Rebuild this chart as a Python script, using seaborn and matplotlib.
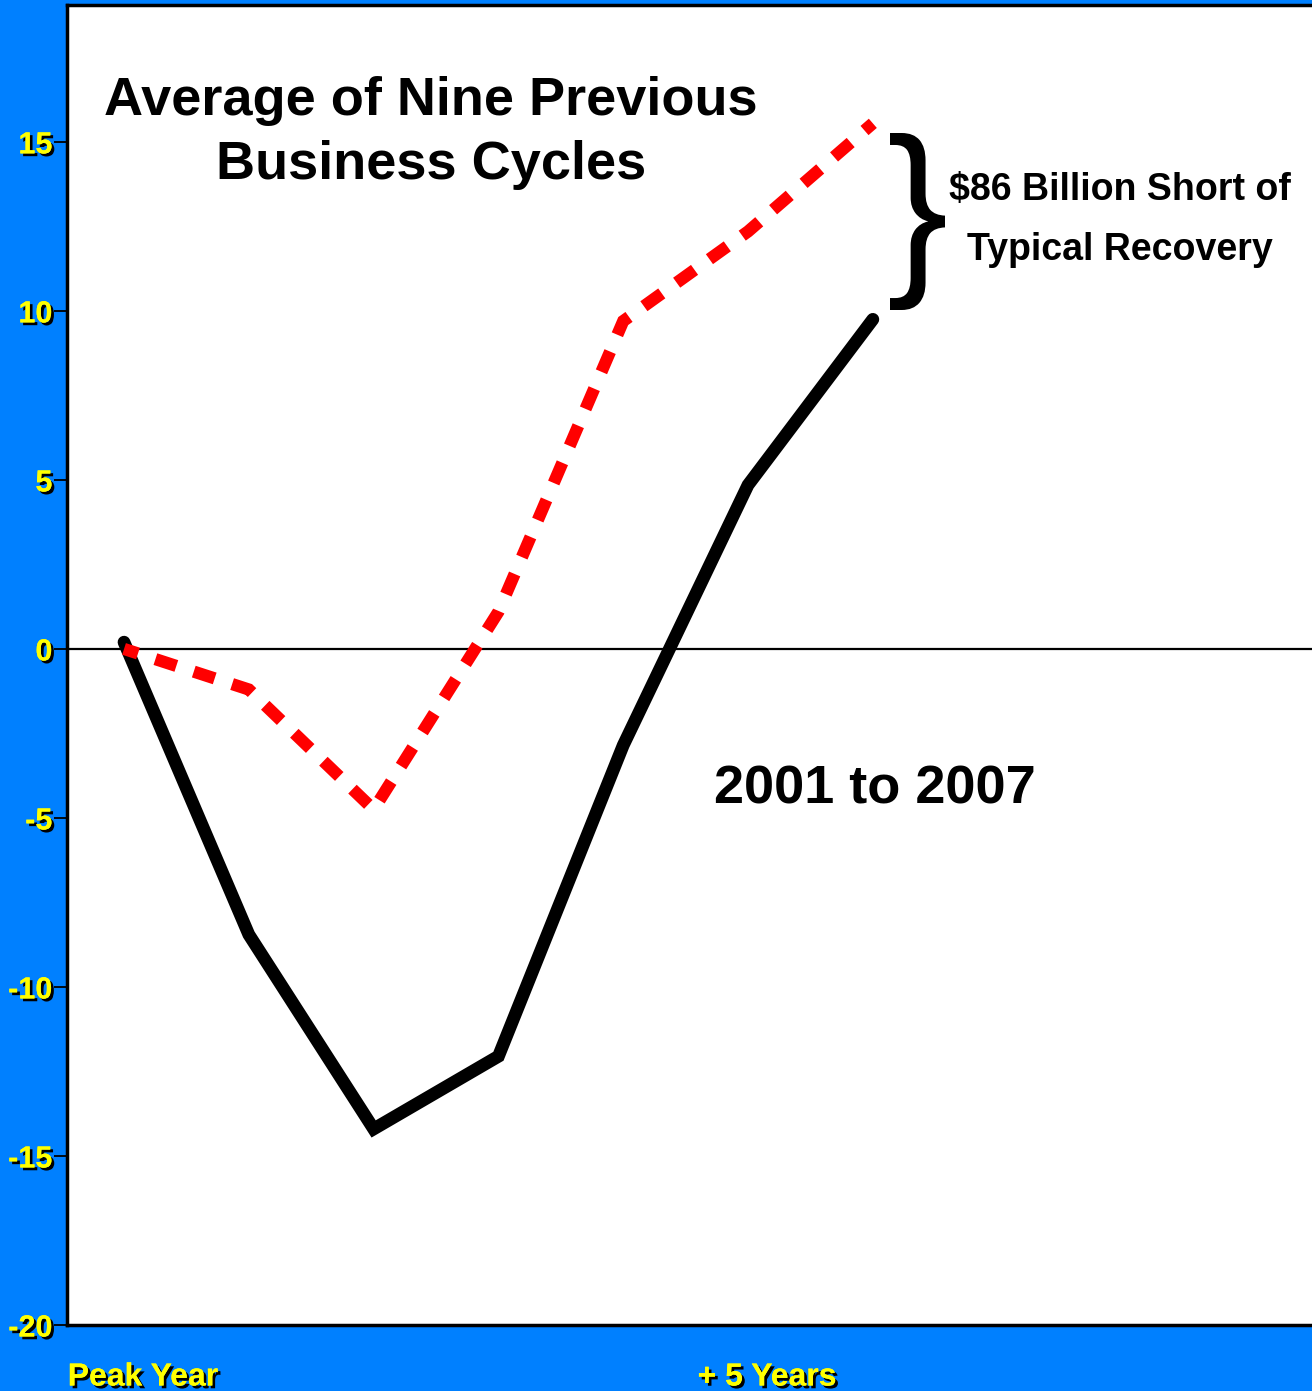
import numpy as np
import pandas as pd
import matplotlib
matplotlib.use("Agg")
import matplotlib.pyplot as plt
import matplotlib.patheffects as pe
from matplotlib.textpath import TextPath
from matplotlib.font_manager import FontProperties
from matplotlib.patches import PathPatch
from matplotlib.transforms import Affine2D, ScaledTranslation
import seaborn as sns

# ---- data ----
years = [0, 1, 2, 3, 4, 5, 6]
cycle_2001_2007 = [0.2, -8.45, -14.2, -12.05, -2.85, 4.85, 9.75]
avg_nine_cycles = [0.0, -1.2, -4.75, 1.1, 9.7, 12.35, 15.55]
x_tick_pos = [0, 5]
x_tick_labels = ["Peak Year", "+ 5 Years"]
y_ticks = [-20, -15, -10, -5, 0, 5, 10, 15]

title_text = "Average of Nine Previous\nBusiness Cycles"
series_label = "2001 to 2007"
gap_text = "$86 Billion Short of\nTypical Recovery"

BLUE = "#0080FF"
FONT = "Liberation Sans"

sns.set_style("white")
plt.rcParams["font.family"] = [FONT, "DejaVu Sans"]

W, H = 1312, 1391
fig = plt.figure(figsize=(W / 100, H / 100), dpi=100, facecolor=BLUE)
ax = fig.add_axes([67 / W, (H - 1325) / H, (W - 67) / W, (1325 - 5) / H])
ax.set_facecolor("white")

df = pd.DataFrame({"year": years, "actual": cycle_2001_2007, "avg": avg_nine_cycles})

sns.lineplot(data=df, x="year", y="actual", ax=ax, color="black", linewidth=9.2)
sns.lineplot(data=df, x="year", y="avg", ax=ax, color="#FF0000", linewidth=8.8,
             linestyle=(0.6, (1.8, 1.5)))
l_black, l_red = ax.lines[0], ax.lines[1]
l_black.set_solid_capstyle("round")
l_black.set_solid_joinstyle("miter")
l_red.set_dash_capstyle("butt")
l_red.set_dash_joinstyle("miter")
l_black.set_zorder(3)
l_red.set_zorder(4)

ax.axhline(0, color="black", linewidth=1.6, zorder=2)

ax.set_xlim(-0.457, 9.519)
ax.set_ylim(-20, 19.05)
ax.set_xlabel("")
ax.set_ylabel("")

for s in ["left", "top", "bottom"]:
    ax.spines[s].set_visible(True)
    ax.spines[s].set_color("black")
    ax.spines[s].set_linewidth(2.5)
ax.spines["right"].set_visible(False)

shadow = [pe.withSimplePatchShadow(offset=(2, -2), shadow_rgbFace="black", alpha=1.0), pe.Normal()]

ax.set_yticks(y_ticks)
ax.set_yticklabels([str(v) for v in y_ticks])
ax.tick_params(axis="y", direction="out", length=9.5, width=1.3, color="black", pad=1,
               labelsize=22, labelcolor="#FFFF00", left=True)
for lab in ax.get_yticklabels():
    lab.set_fontweight("bold")
    lab.set_path_effects(shadow)

ax.set_xticks(x_tick_pos)
ax.set_xticklabels(x_tick_labels)
ax.tick_params(axis="x", length=0, pad=27, labelsize=23, labelcolor="#FFFF00", bottom=True)
off = ScaledTranslation(19 / 100, 0, fig.dpi_scale_trans)
for lab in ax.get_xticklabels():
    lab.set_fontweight("bold")
    lab.set_path_effects(shadow)
    lab.set_transform(lab.get_transform() + off)

def fig_xy(px, py):
    return px / W, (H - py) / H

ax.text(*fig_xy(431, 133), title_text, transform=fig.transFigure, ha="center", va="center",
        fontsize=39, fontweight="bold", color="black", linespacing=1.36, zorder=6)
ax.text(*fig_xy(875, 790), series_label, transform=fig.transFigure, ha="center", va="center",
        fontsize=39, fontweight="bold", color="black", zorder=6)
ax.text(*fig_xy(1120, 220), gap_text, transform=fig.transFigure, ha="center", va="center",
        fontsize=27, fontweight="bold", color="black", linespacing=1.85, zorder=6)

# brace
tp = TextPath((0, 0), "}", prop=FontProperties(family=FONT, weight="normal"), size=100)
ext = tp.get_extents()
x0, x1, y0, y1 = 890, 945, 133, 310
sx = (x1 - x0) / ext.width
sy = (y1 - y0) / ext.height
tr = (Affine2D().translate(-ext.x0, -ext.y0).scale(sx, sy)
      .translate(x0, H - y1).scale(1 / W, 1 / H))
brace = tr.transform_path(tp)
fig.patches.append(PathPatch(brace, transform=fig.transFigure, facecolor="black",
                             edgecolor="none", zorder=10))

fig.savefig("out.png", dpi=100, facecolor=BLUE)
